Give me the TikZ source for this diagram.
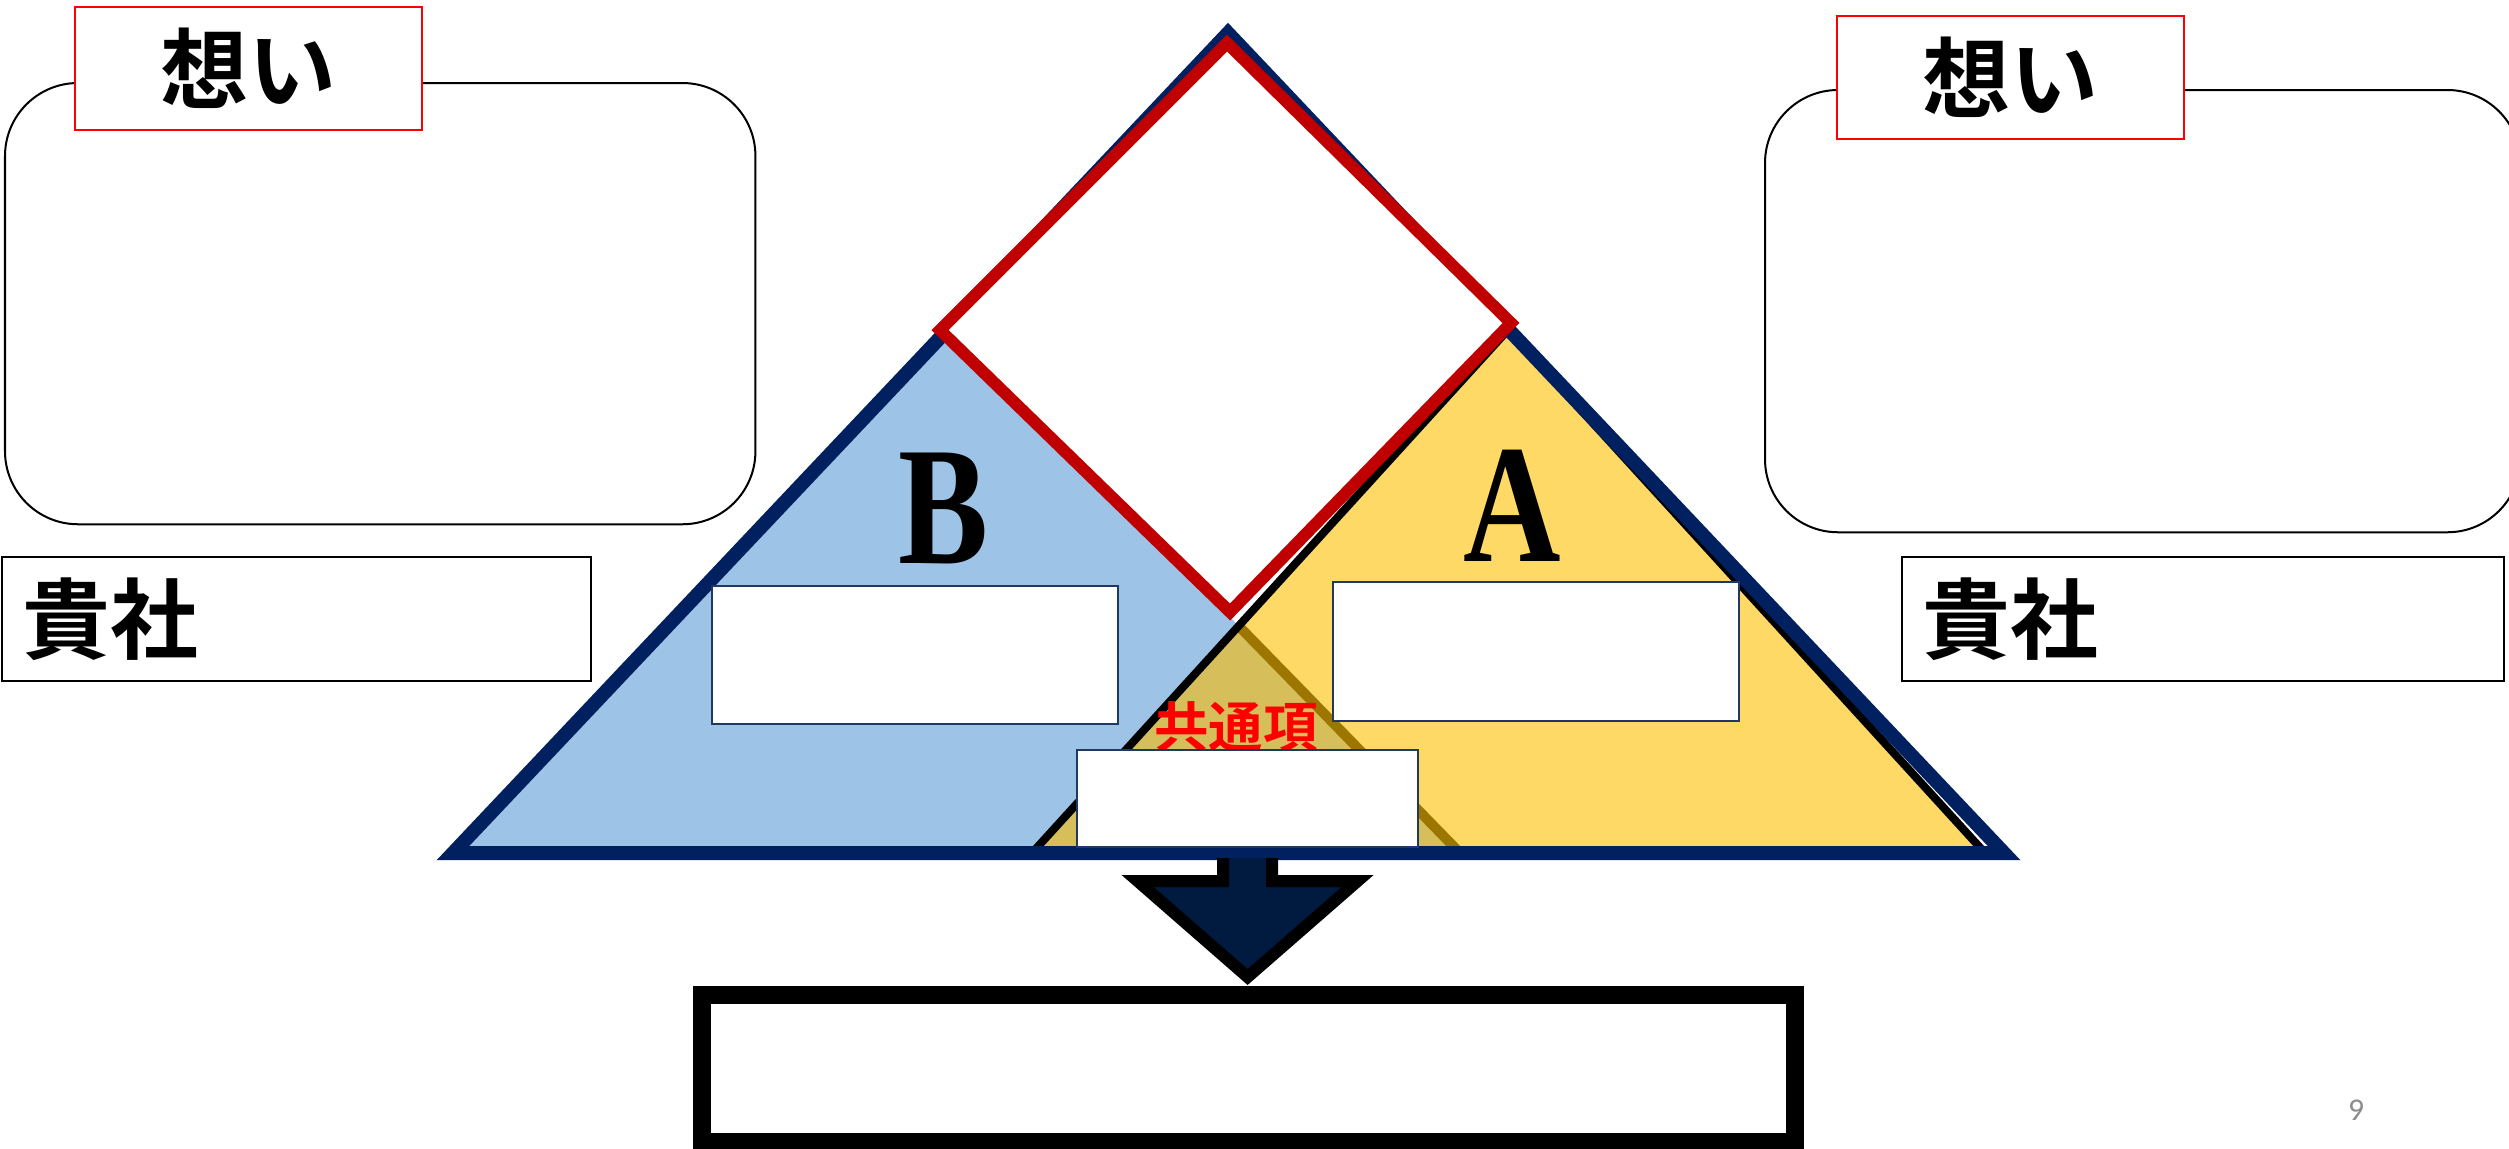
\documentclass[tikz,border=0pt]{standalone}
\usepackage{fontspec}
\setmainfont{Liberation Serif}
\newfontfamily\jpfont[BoldFont={Noto Sans CJK JP Bold}]{Noto Sans CJK JP}
\newfontfamily\pagefont{Carlito}
\usepackage{tikz}
\usetikzlibrary{calc,positioning}
\definecolor{navyline}{HTML}{002060}
\definecolor{fillblue}{HTML}{9DC3E6}
\definecolor{fillyellow}{HTML}{FFD966}
\definecolor{filloverlap}{HTML}{D6BF5A}
\definecolor{lineochre}{HTML}{9C7600}
\definecolor{diamondred}{HTML}{C00000}
\definecolor{arrownavy}{HTML}{001A40}
\definecolor{boxnavy}{HTML}{1F3864}
\definecolor{pagegray}{HTML}{8C8C8C}
\tikzset{
  panelbox/.style={draw=black,line width=0.02cm,fill=white,rounded corners=0.73cm,inner sep=0pt,outer sep=0pt},
  omoibox/.style={draw=red,line width=0.02cm,fill=white,inner sep=0pt,outer sep=0pt,minimum width=3.47cm,minimum height=1.23cm,
    font=\jpfont\bfseries\fontsize{25pt}{25pt}\selectfont},
  kishabox/.style={draw=black,line width=0.02cm,fill=white,inner sep=0pt,outer sep=0pt,minimum height=1.24cm},
  kishatext/.style={inner sep=0pt,font=\jpfont\bfseries\fontsize{25pt}{25pt}\selectfont},
  valuebox/.style={draw=boxnavy,line width=0.02cm,fill=white,inner sep=0pt,outer sep=0pt},
  bigletter/.style={inner sep=0pt,font=\bfseries\fontsize{48pt}{48pt}\selectfont},
}
\begin{document}
\begin{tikzpicture}[x=0.01cm,y=-0.01cm]
\fill[white] (0,0) rectangle (2509,1148);
\useasboundingbox (0,0) rectangle (2509,1148);

% pyramid corners
\coordinate (top) at (1228,33);
\coordinate (bl) at (453,853);
\coordinate (br) at (2004,853);
% triangles B and A
\coordinate (Btop) at (950,330);
\coordinate (Bright) at (1460,853);
\coordinate (Atop) at (1508,330);
\coordinate (Aleft) at (1032,853);
\coordinate (Aright) at (1985,853);

\fill[fillblue] (Btop)--(bl)--(Bright)--cycle;
\fill[fillyellow] (Atop)--(Aleft)--(Aright)--cycle;
\begin{scope}
  \clip (Btop)--(bl)--(Bright)--cycle;
  \fill[filloverlap] (Atop)--(Aleft)--(Aright)--cycle;
\end{scope}
\begin{scope}
  \clip (Atop)--(Aleft)--(Aright)--cycle;
  \draw[lineochre,line width=0.1cm] (Btop)--(Bright);
\end{scope}
\draw[black,line width=0.08cm,line join=miter] (Atop)--(Aleft)--(Aright)--cycle;
\draw[navyline,line width=0.14cm,line join=miter] (top)--(bl)--(br)--cycle;

% diamond
\coordinate (dT) at (1227,43);
\coordinate (dL) at (940,330);
\coordinate (dB) at (1230,612);
\coordinate (dR) at (1511,323);
\draw[diamondred,line width=0.12cm,fill=white,line join=miter] (dT)--(dL)--(dB)--(dR)--cycle;

\node[bigletter] (labB) at (944,508) {\scalebox{0.8}[1]{B}};
\node[bigletter] (labA) at (1512,506) {\scalebox{0.8}[1]{A}};
\node[valuebox,minimum width=4.06cm,minimum height=1.38cm,anchor=north west] (boxB) at (712,586) {};
\node[valuebox,minimum width=4.06cm,minimum height=1.39cm,anchor=north west] (boxA) at (1333,582) {};
\node[inner sep=0pt,text=red,font=\jpfont\bfseries\fontsize{15.5pt}{15.5pt}\selectfont] (common) at (1236,727) {共通項};
\node[valuebox,minimum width=3.41cm,minimum height=0.97cm,anchor=north west] (boxC) at (1077,750) {};

% result box and arrow
\node[draw=black,line width=0.18cm,inner sep=0pt,outer sep=0pt,minimum width=10.92cm,minimum height=1.47cm,anchor=north west] (result) at (702,995) {};
\coordinate (arrtail) at ($(boxC.south)+(0,11)$);
\coordinate (arrtip) at ($(arrtail |- result.north)+(0,-18)$);
\fill[arrownavy] ($(arrtail)+(-24.5,0)$) -- ($(arrtail)+(24.5,0)$) -- ($(arrtip)+(24.5,-96)$) -- ($(arrtip)+(110,-96)$)
  -- (arrtip) -- ($(arrtip)+(-110,-96)$) -- ($(arrtip)+(-24.5,-96)$) -- cycle;
\draw[black,line width=0.12cm,line join=miter] ($(arrtail)+(-24.5,0)$) -- ($(arrtip)+(-24.5,-96)$) -- ($(arrtip)+(-110,-96)$)
  -- (arrtip) -- ($(arrtip)+(110,-96)$) -- ($(arrtip)+(24.5,-96)$) -- ($(arrtail)+(24.5,0)$);

% side panels
\node[panelbox,minimum width=7.50cm,minimum height=4.41cm,anchor=north west] (panelL) at (5,83) {};
\node[panelbox,minimum width=7.55cm,minimum height=4.42cm,anchor=north west] (panelR) at (1765,90) {};
\node[omoibox,anchor=north west] (omoiL) at (75,7) {\raisebox{-0.05cm}{想い}};
\node[omoibox,anchor=north west] (omoiR) at (1837,16) {\raisebox{-0.05cm}{想い}};
\node[kishabox,minimum width=5.89cm,anchor=north west] (kishaL) at (2,557) {};
\node[kishabox,minimum width=6.02cm,anchor=north west] (kishaR) at (1902,557) {};
\node[kishatext,right=0.2cm of kishaL.west] (kishaLtext) {貴社};
\node[kishatext,right=0.2cm of kishaR.west] (kishaRtext) {貴社};

\node[text=pagegray,font=\pagefont\fontsize{9pt}{9pt}\selectfont] (pagenum) at (2356,1110) {9};
\end{tikzpicture}
\end{document}
